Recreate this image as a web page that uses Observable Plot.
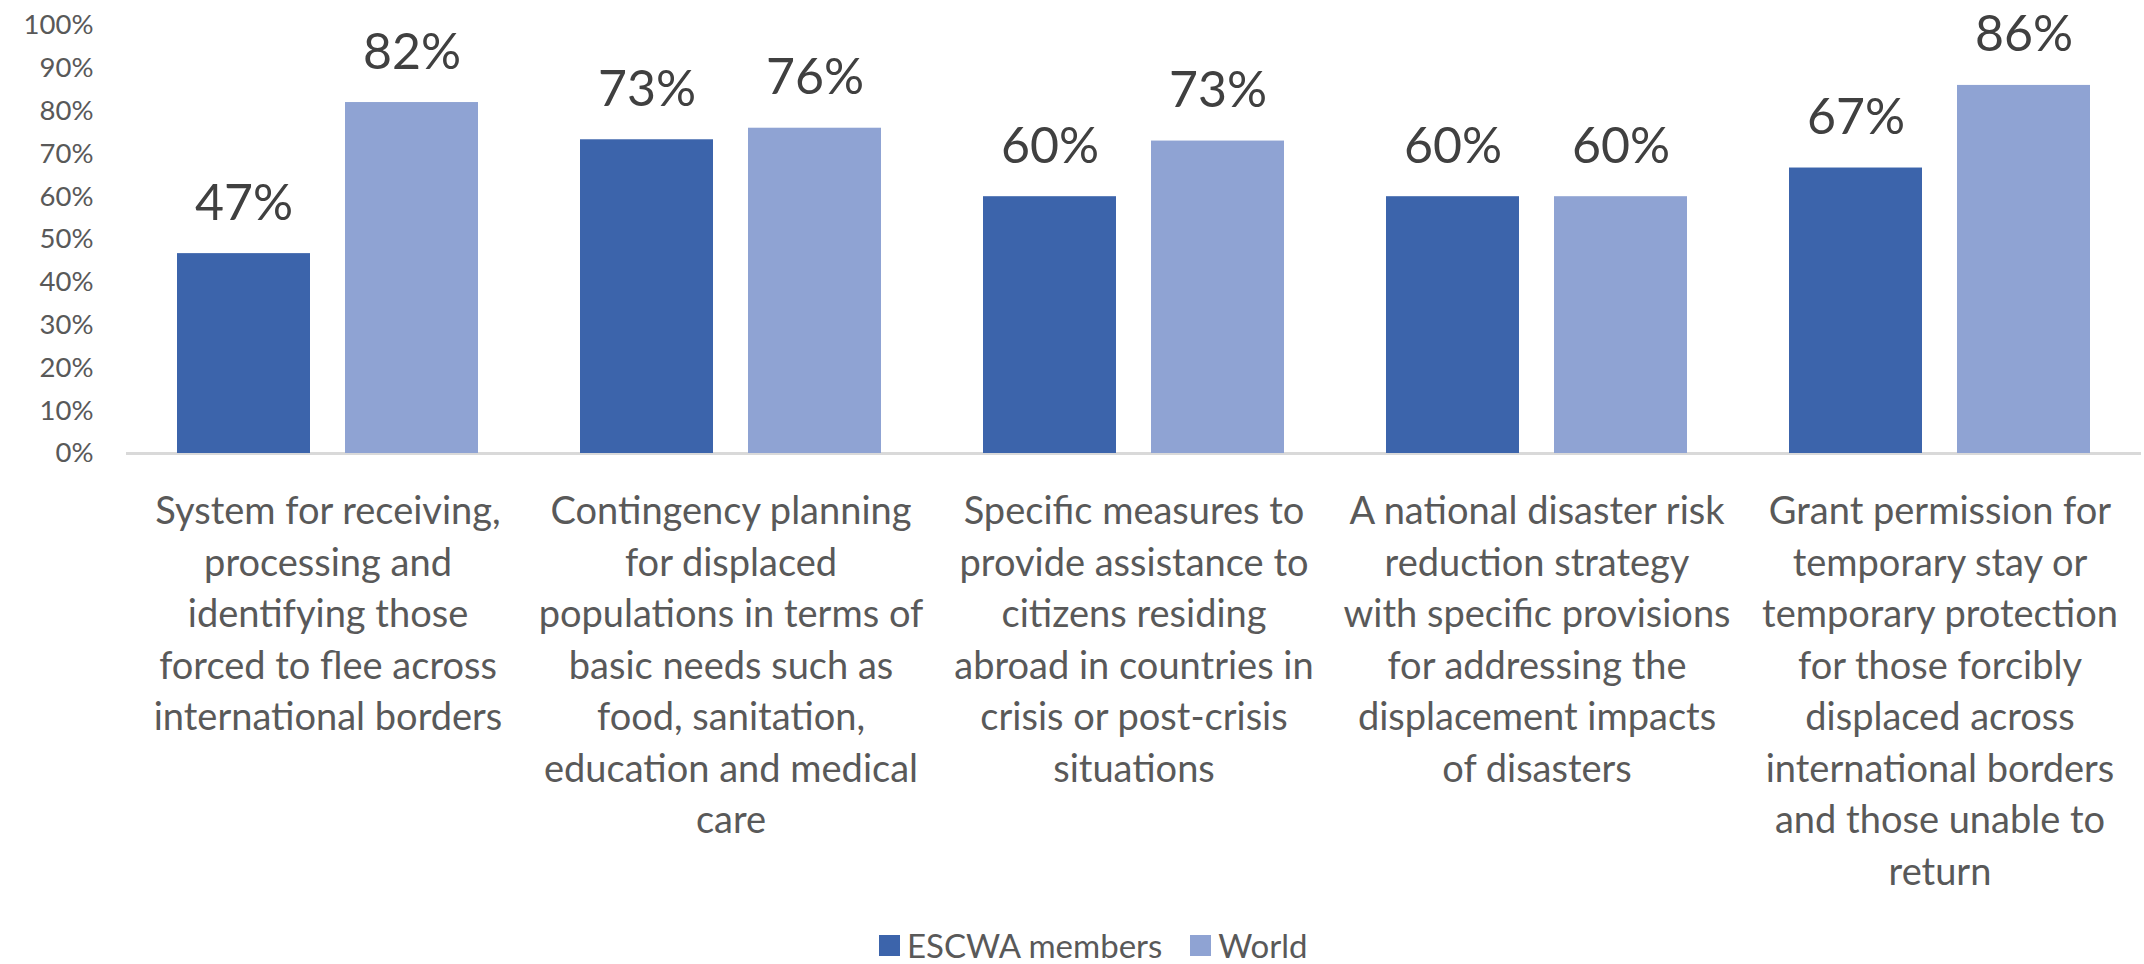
<!DOCTYPE html>
<html>
<head>
<meta charset="utf-8">
<script src="https://cdn.jsdelivr.net/npm/d3@7"></script>
<script src="https://cdn.jsdelivr.net/npm/@observablehq/plot@0.6"></script>
<style>
  html, body { margin: 0; padding: 0; background: #ffffff; }
  body { width: 2144px; height: 964px; position: relative; overflow: hidden; font-family: Lato, "Open Sans", sans-serif; }
  #chart { position: absolute; left: 0; top: 0; }
  #legend { position: absolute; left: 879px; top: 928px; display: flex; align-items: center; font-size: 33px; line-height: 34px; color: #595959; white-space: nowrap; }
  #legend .sw { display: inline-block; width: 21px; height: 21px; margin-right: 7px; }
  #legend .item { display: flex; align-items: center; margin-right: 28px; }
</style>
</head>
<body>
<div id="chart"></div>
<div id="legend"></div>
<script>
const categories = [
  "System for receiving, processing and identifying those forced to flee across international borders",
  "Contingency planning for displaced populations in terms of basic needs such as food, sanitation, education and medical care",
  "Specific measures to provide assistance to citizens residing abroad in countries in crisis or post-crisis situations",
  "A national disaster risk reduction strategy with specific provisions for addressing the displacement impacts of disasters",
  "Grant permission for temporary stay or temporary protection for those forcibly displaced across international borders and those unable to return"
];
const tickLabels = [
  "System for receiving,\nprocessing and\nidentifying those\nforced to flee across\ninternational borders",
  "Contingency planning\nfor displaced\npopulations in terms of\nbasic needs such as\nfood, sanitation,\neducation and medical\ncare",
  "Specific measures to\nprovide assistance to\ncitizens residing\nabroad in countries in\ncrisis or post-crisis\nsituations",
  "A national disaster risk\nreduction strategy\nwith specific provisions\nfor addressing the\ndisplacement impacts\nof disasters",
  "Grant permission for\ntemporary stay or\ntemporary protection\nfor those forcibly\ndisplaced across\ninternational borders\nand those unable to\nreturn"
];
const seriesNames = ["ESCWA members", "World"];
const escwaValues = [46.7, 73.3, 60, 60, 66.7];
const worldValues = [82, 76, 73, 60, 86];
const seriesColors = ["#3C64AB", "#8FA3D3"];
const yTicks = [0, 10, 20, 30, 40, 50, 60, 70, 80, 90, 100];

const data = categories.flatMap((c, i) => [
  {cat: c, series: seriesNames[0], value: escwaValues[i]},
  {cat: c, series: seriesNames[1], value: worldValues[i]}
]);

const H = 926;
const chart = Plot.plot({
  width: 2144,
  height: H,
  marginLeft: 125,
  marginRight: 3,
  marginTop: 25,
  marginBottom: H - 453,
  style: {background: "transparent", fontFamily: "Lato, 'Open Sans', sans-serif"},
  fx: {domain: categories, padding: 0, label: null},
  x: {domain: seriesNames, paddingInner: 0.207, paddingOuter: 0.296, axis: null},
  y: {domain: [0, 100], label: null},
  color: {domain: seriesNames, range: seriesColors},
  marks: [
    Plot.axisY({ticks: yTicks, tickFormat: d => d + "%", tickSize: 0, tickPadding: 33, fontSize: 27.5, fill: "#595959", label: null}),
    Plot.axisFx({anchor: "bottom", tickSize: 0, tickPadding: 34, fontSize: 38, lineHeight: 51.5 / 38, fill: "#595959", label: null,
      tickFormat: d => tickLabels[categories.indexOf(d)]}),
    Plot.ruleY([0], {stroke: "#D9D9D9", strokeWidth: 3}),
    Plot.barY(data, {fx: "cat", x: "series", y: "value", fill: "series"}),
    Plot.text(data, {fx: "cat", x: "series", y: "value", text: d => Math.round(d.value) + "%", dy: -50, lineAnchor: "middle", fontSize: 50, fill: "#404040"})
  ]
});
document.getElementById("chart").appendChild(chart);

const legend = document.getElementById("legend");
seriesNames.forEach((name, i) => {
  const item = document.createElement("span");
  item.className = "item";
  const sw = document.createElement("span");
  sw.className = "sw";
  sw.style.background = seriesColors[i];
  item.appendChild(sw);
  item.appendChild(document.createTextNode(name));
  legend.appendChild(item);
});
</script>
</body>
</html>
